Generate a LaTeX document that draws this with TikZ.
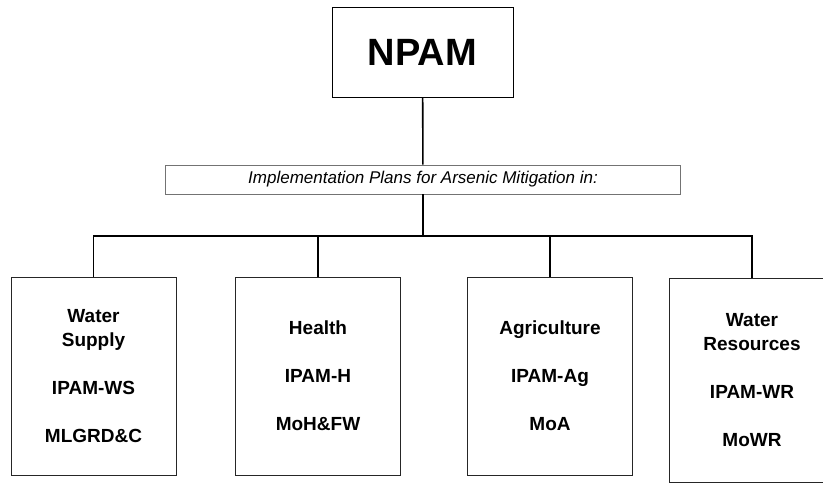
\documentclass[tikz,border=0pt]{standalone}
\usepackage{fontspec}
\setmainfont{Liberation Sans}
\usetikzlibrary{positioning}

\begin{document}
\begin{tikzpicture}[
    x=1pt, y=-1pt,
    topbox/.style={rectangle, draw=black, line width=0.8pt, minimum width=181pt, minimum height=90pt, font=\fontsize{38}{40}\selectfont\bfseries},
    banner/.style={rectangle, draw=black!55, line width=0.7pt, minimum width=515pt, minimum height=29pt, inner sep=0pt, font=\fontsize{17}{20}\selectfont\itshape},
    planbox/.style={rectangle, draw=black!85, line width=0.8pt, minimum width=165pt, minimum height=198pt, align=center, font=\fontsize{19}{24}\selectfont\bfseries},
    link/.style={line width=1.6pt}
]
\useasboundingbox (0,0) rectangle (823,483);
\clip (0,0) rectangle (823,483);

% Nodes
\node [topbox] (npam) at (422.5,52) {NPAM};
\node [banner] (plans) at (423,179.5) {Implementation Plans for Arsenic Mitigation in:};
\node [planbox] (ws) at (93.5,376) {Water\\Supply\\[24pt]IPAM-WS\\[24pt]MLGRD\&C};
\node [planbox] (hs) at (318,376) {Health\\[24pt]IPAM-H\\[24pt]MoH\&FW};
\node [planbox] (ag) at (550,376) {Agriculture\\[24pt]IPAM-Ag\\[24pt]MoA};
\node [planbox, minimum height=204pt] (wr) at (752,380) {Water\\Resources\\[24pt]IPAM-WR\\[24pt]MoWR};
\coordinate (bus) at (423,236);

% Lines
\draw [link] (npam) -- (plans);
\draw [link] (plans) -- (bus);
\draw [link] (ws) |- (bus) -| (wr);
\draw [link] (hs) -- (hs |- bus);
\draw [link] (ag) -- (ag |- bus);

\end{tikzpicture}
\end{document}
